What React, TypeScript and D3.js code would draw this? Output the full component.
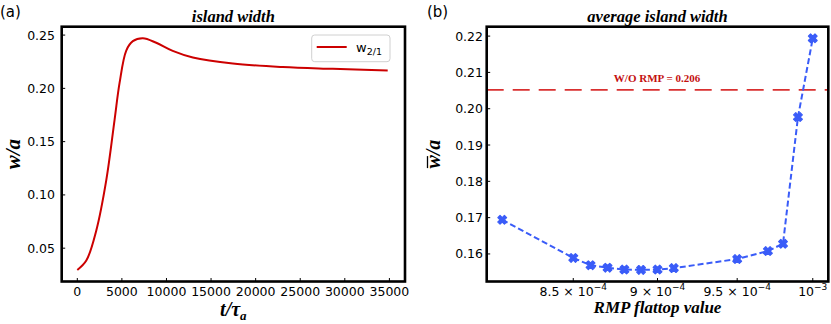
import * as d3 from 'd3'

// panel (a): island width vs time
const timeVals = [0, 1009, 2130, 3250, 4180, 4740, 5490, 6230, 7350, 8850, 10700, 12960, 17440, 23040, 28650, 34810]
const widthVals = [0.0296, 0.0384, 0.0667, 0.1139, 0.1705, 0.2051, 0.2355, 0.2443, 0.2470, 0.2428, 0.2352, 0.2290, 0.2233, 0.2200, 0.2183, 0.2167]
const xTicksA = [0, 5000, 10000, 15000, 20000, 25000, 30000, 35000]
const yTicksA = [0.05, 0.10, 0.15, 0.20, 0.25]

// panel (b): average island width vs RMP flattop
const flattopVals = [8.1e-4, 8.5e-4, 8.6e-4, 8.7e-4, 8.8e-4, 8.9e-4, 9.0e-4, 9.1e-4, 9.5e-4, 9.7e-4, 9.8e-4, 9.9e-4, 1.0e-3]
const avgWidthVals = [0.1694, 0.1589, 0.1569, 0.1562, 0.1557, 0.1556, 0.1557, 0.1561, 0.1586, 0.1608, 0.1628, 0.1977, 0.2194]
const xTicksB = [
  { v: 8.5e-4, m: '8.5', e: '−4' },
  { v: 9.0e-4, m: '9', e: '−4' },
  { v: 9.5e-4, m: '9.5', e: '−4' },
  { v: 1.0e-3, m: '', e: '−3' },
]
const yTicksB = [0.16, 0.17, 0.18, 0.19, 0.20, 0.21, 0.22]
const noRmpLevel = 0.2052
const noRmpLabel = 'W/O RMP = 0.206'

const W = 831
const H = 324
const tickFont = '"DejaVu Sans", sans-serif'
const serif = '"Liberation Serif", "Times New Roman", serif'

// matplotlib style 5% margins
function padded(lo: number, hi: number) {
  const m = (hi - lo) * 0.05
  return [lo - m, hi + m]
}

export default function App() {
  const top = 26.7
  const bottom = 281.5

  // ---- panel a
  const ax0 = 61.7, ax1 = 405
  const xA = d3.scaleLinear().domain(padded(0, 35000)).range([ax0, ax1])
  const yA = d3.scaleLinear().domain(padded(d3.min(widthVals)!, d3.max(widthVals)!)).range([bottom, top])
  const lineA = d3.line<number>()
    .x((d, i) => xA(timeVals[i]))
    .y(d => yA(d))
    .curve(d3.curveCatmullRom.alpha(0.5))

  // ---- panel b
  const bx0 = 486.7, bx1 = 828.3
  const lx = padded(Math.log10(8.1e-4), Math.log10(1e-3))
  const xB = d3.scaleLog().domain([10 ** lx[0], 10 ** lx[1]]).range([bx0, bx1])
  const yB = d3.scaleLinear().domain(padded(d3.min(avgWidthVals)!, d3.max(avgWidthVals)!)).range([bottom, top])
  const lineB = d3.line<number>()
    .x((d, i) => xB(flattopVals[i]))
    .y(d => yB(d))
  const marker = d3.symbol().type(d3.symbolCross).size(48)()

  const blue = '#3a5cf8'
  const labFs = 20

  return (
    <svg width={W} height={H} style={{ position: 'fixed', left: 0, top: 0, background: '#fff' }}>
      {/* ---------- (a) ---------- */}
      <text x={0} y={17} fontFamily={tickFont} fontSize={15}>(a)</text>
      <text x={(ax0 + ax1) / 2} y={22} textAnchor="middle" fontFamily={serif} fontWeight="bold" fontStyle="italic" fontSize={16.5}>island width</text>
      <path d={lineA(widthVals) || ''} fill="none" stroke="#cc0000" strokeWidth={2} />
      {xTicksA.map(t => (
        <g key={t}>
          <line x1={xA(t)} x2={xA(t)} y1={bottom} y2={bottom - 3.5} stroke="#000" strokeWidth={1} />
          <text x={xA(t)} y={296} textAnchor="middle" fontFamily={tickFont} fontSize={12.5}>{t}</text>
        </g>
      ))}
      {yTicksA.map(t => (
        <g key={t}>
          <line x1={ax0} x2={ax0 + 3.5} y1={yA(t)} y2={yA(t)} stroke="#000" strokeWidth={1} />
          <text x={55} y={yA(t)} dy="0.36em" textAnchor="end" fontFamily={tickFont} fontSize={12.5}>{t.toFixed(2)}</text>
        </g>
      ))}
      <rect x={ax0} y={top} width={ax1 - ax0} height={bottom - top} fill="none" stroke="#000" strokeWidth={2.6} />
      {/* legend */}
      <rect x={311.7} y={35} width={78.3} height={26.7} rx={3} fill="#fff" stroke="#d0d0d0" strokeWidth={1} />
      <line x1={316.7} x2={346.7} y1={47} y2={47} stroke="#cc0000" strokeWidth={2} />
      <text x={356} y={52} fontFamily={tickFont} fontSize={13}>
        w<tspan fontSize={9.5} dy={3}>2/1</tspan>
      </text>
      <text x={(ax0 + ax1) / 2} y={316} textAnchor="middle" fontFamily={serif} fontWeight="bold" fontStyle="italic" fontSize={labFs}>
        t/τ<tspan fontSize={13} dy={4}>a</tspan>
      </text>
      <text transform={`translate(20,${(top + bottom) / 2}) rotate(-90)`} textAnchor="middle" fontFamily={serif} fontWeight="bold" fontStyle="italic" fontSize={21}>w/a</text>

      {/* ---------- (b) ---------- */}
      <text x={427} y={17} fontFamily={tickFont} fontSize={15}>(b)</text>
      <text x={(bx0 + bx1) / 2} y={22} textAnchor="middle" fontFamily={serif} fontWeight="bold" fontStyle="italic" fontSize={16.5}>average island width</text>
      <line x1={bx0} x2={bx1} y1={yB(noRmpLevel)} y2={yB(noRmpLevel)} stroke="#d93030" strokeWidth={1.6} strokeDasharray="17,9" />
      <text x={657} y={81.5} textAnchor="middle" fontFamily={serif} fontWeight="bold" fontSize={11} fill="#c41010">{noRmpLabel}</text>
      <path d={lineB(avgWidthVals) || ''} fill="none" stroke={blue} strokeWidth={2} strokeDasharray="6,3" />
      {avgWidthVals.map((v, i) => (
        <path key={i} d={marker || ''} transform={`translate(${xB(flattopVals[i])},${yB(v)}) rotate(45)`} fill={blue} stroke={blue} strokeWidth={1.2} strokeLinejoin="round" />
      ))}
      {xTicksB.map(t => (
        <g key={t.v}>
          <line x1={xB(t.v)} x2={xB(t.v)} y1={bottom} y2={bottom - 3.5} stroke="#000" strokeWidth={1} />
          <text x={xB(t.v)} y={296} textAnchor="middle" fontFamily={tickFont} fontSize={12.5}>
            {t.m ? `${t.m} × ` : ''}10<tspan fontSize={9} dy={-6}>{t.e}</tspan>
          </text>
        </g>
      ))}
      {yTicksB.map(t => (
        <g key={t}>
          <line x1={bx0} x2={bx0 + 3.5} y1={yB(t)} y2={yB(t)} stroke="#000" strokeWidth={1} />
          <text x={483} y={yB(t)} dy="0.36em" textAnchor="end" fontFamily={tickFont} fontSize={12.5}>{t.toFixed(2)}</text>
        </g>
      ))}
      <rect x={bx0} y={top} width={bx1 - bx0} height={bottom - top} fill="none" stroke="#000" strokeWidth={2.6} />
      <text x={(bx0 + bx1) / 2} y={313} textAnchor="middle" fontFamily={serif} fontWeight="bold" fontStyle="italic" fontSize={17}>RMP flattop value</text>
      <g transform={`translate(440,${(top + bottom) / 2}) rotate(-90)`}>
        <text textAnchor="middle" fontFamily={serif} fontWeight="bold" fontStyle="italic" fontSize={labFs}>w/a</text>
        <line x1={-14} x2={-2} y1={-12.5} y2={-12.5} stroke="#000" strokeWidth={1.3} />
      </g>
    </svg>
  )
}
